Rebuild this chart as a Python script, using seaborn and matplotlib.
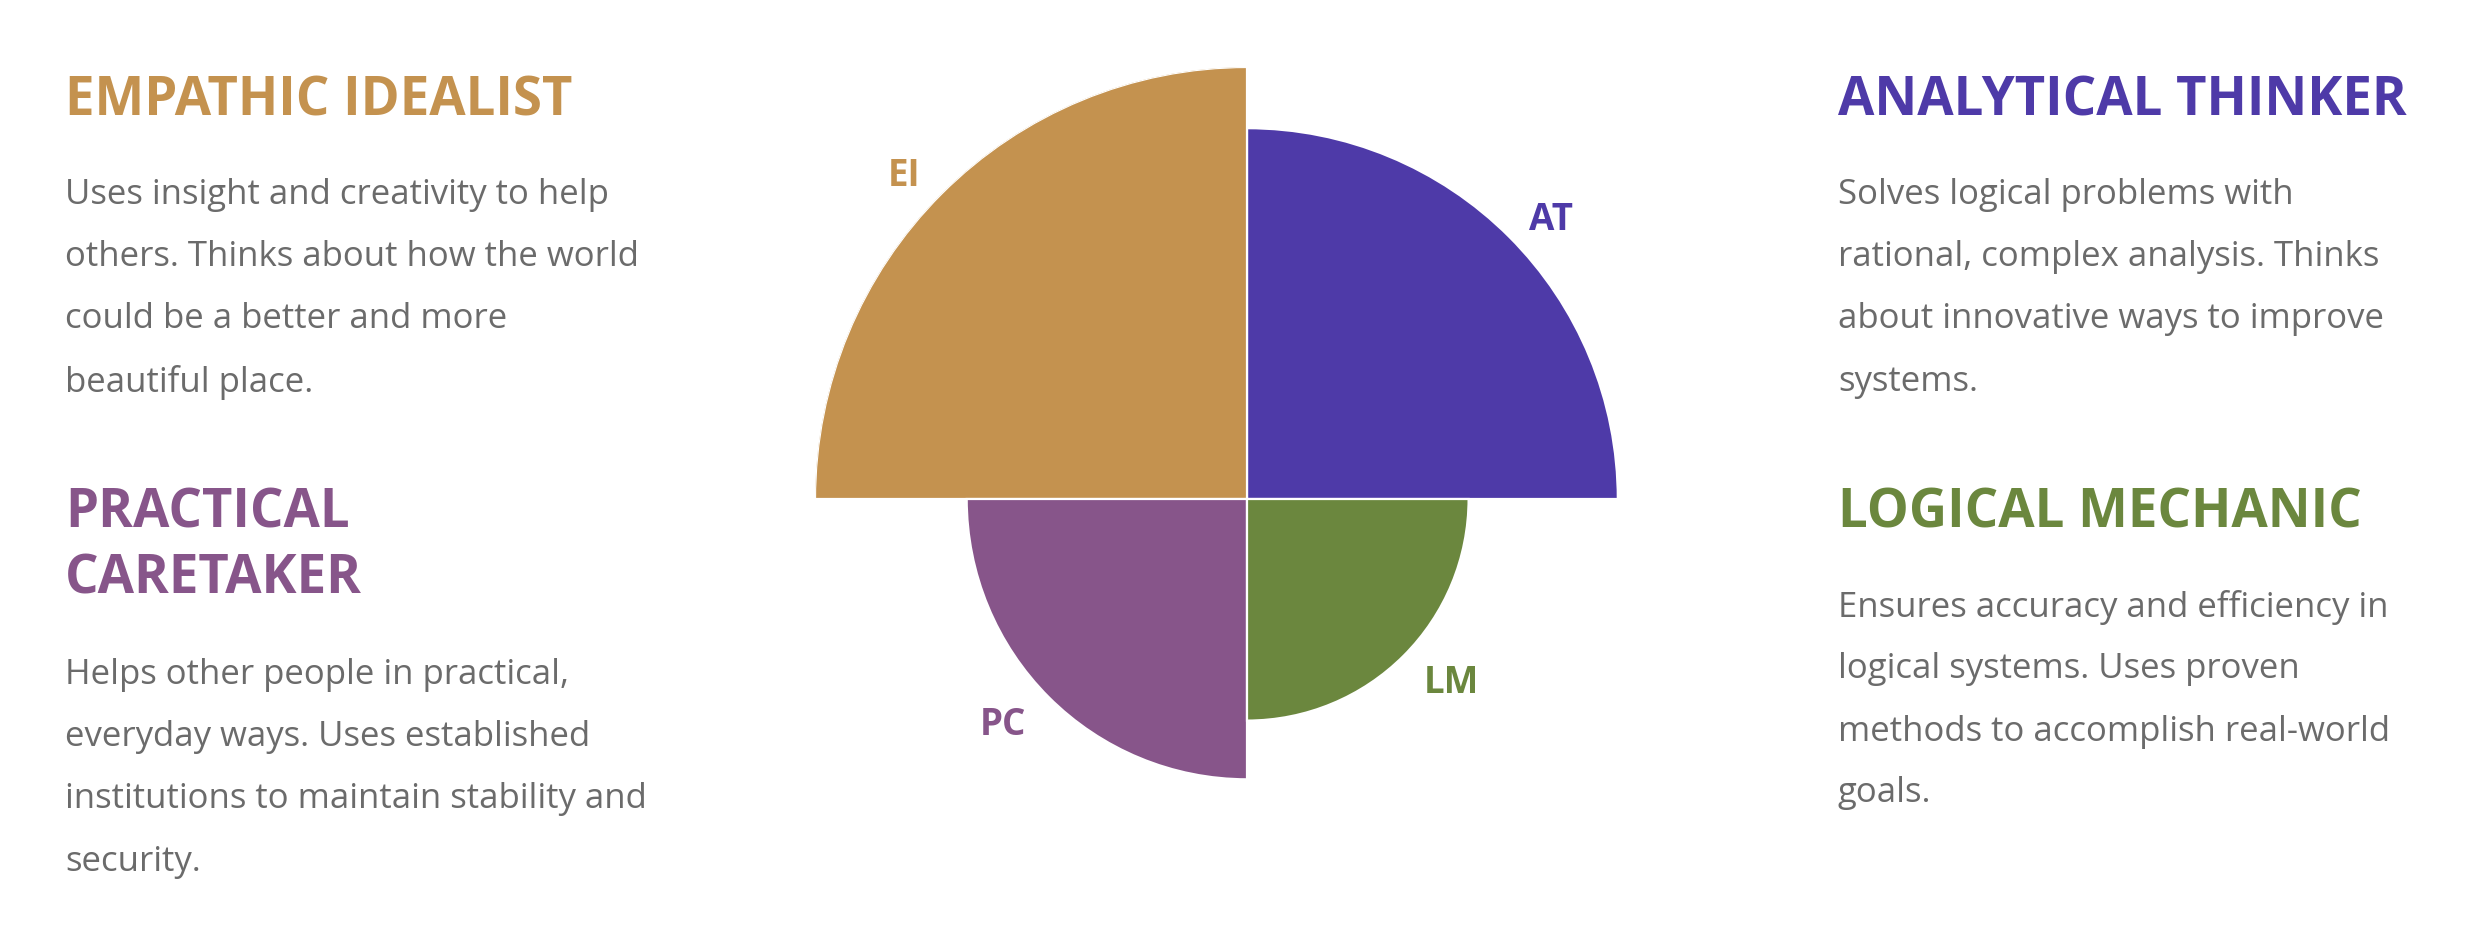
import numpy as np
import matplotlib
matplotlib.use('Agg')
import matplotlib.pyplot as plt
import matplotlib.transforms as mtransforms
import seaborn as sns

# quadrant data (area of each wedge ~ score)
codes = ['AT', 'EI', 'PC', 'LM']
scores = [28, 38, 16, 10]
colors = ['#4E3AA8', '#C4924F', '#87558A', '#6B873E']

# side text
titles = {
    'EI': ['EMPATHIC IDEALIST'],
    'PC': ['PRACTICAL', 'CARETAKER'],
    'AT': ['ANALYTICAL THINKER'],
    'LM': ['LOGICAL MECHANIC'],
}
bodies = {
    'EI': ['Uses insight and creativity to help',
           'others. Thinks about how the world',
           'could be a better and more',
           'beautiful place.'],
    'PC': ['Helps other people in practical,',
           'everyday ways. Uses established',
           'institutions to maintain stability and',
           'security.'],
    'AT': ['Solves logical problems with',
           'rational, complex analysis. Thinks',
           'about innovative ways to improve',
           'systems.'],
    'LM': ['Ensures accuracy and efficiency in',
           'logical systems. Uses proven',
           'methods to accomplish real-world',
           'goals.'],
}

sns.set_theme(style='white')
plt.rcParams['font.family'] = ['Open Sans', 'DejaVu Sans']

W, H = 2486, 930
fig = plt.figure(figsize=(W / 100, H / 100), dpi=100)
fig.patch.set_facecolor('white')

# polar area chart
cx, cy, rpx = 1247, 499, 432
ax = fig.add_axes([(cx - rpx) / W, (H - cy - rpx) / H, 2 * rpx / W, 2 * rpx / H], projection='polar')
radii = np.sqrt(scores)
rmax = radii.max()
thetas = np.arange(len(codes)) * np.pi / 2
ax.bar(thetas, radii, width=np.pi / 2, align='edge', color=colors,
       edgecolor='white', linewidth=1.6)
ax.set_ylim(0, rmax)
ax.set_axis_off()

# short labels just outside each wedge
lab_dang = [-2.0, 1.3, -2.9, 3.8]   # degrees off the wedge middle
lab_off = [45, 43, 49, 50]          # px beyond the arc
lab_tr = mtransforms.offset_copy(ax.transData, fig=fig, y=-5, units='dots')
for th, r, code, c, da, op in zip(thetas, radii, codes, colors, lab_dang, lab_off):
    ax.text(th + np.pi / 4 + np.radians(da), r + op * rmax / rpx, code, color=c,
            fontsize=26.5, fontweight='bold', ha='center', va='center', transform=lab_tr)

col = dict(zip(codes, colors))
gray = '#6b6b6b'


def block(x, title_ys, body_ys, code):
    for y, line in zip(title_ys, titles[code]):
        fig.text(x / W, 1 - y / H, line, color=col[code], fontsize=38,
                 fontweight='bold', ha='left', va='center')
    for y, line in zip(body_ys, bodies[code]):
        fig.text(x / W, 1 - y / H, line, color=gray, fontsize=25,
                 ha='left', va='center')


block(65, [102], [195, 257, 319, 382], 'EI')
block(65, [513, 579], [675, 737, 799, 862], 'PC')
block(1838, [102], [195, 257, 319, 382], 'AT')
block(1838, [513], [607, 669, 732, 793], 'LM')

fig.savefig('out.png', dpi=100, facecolor='white')
